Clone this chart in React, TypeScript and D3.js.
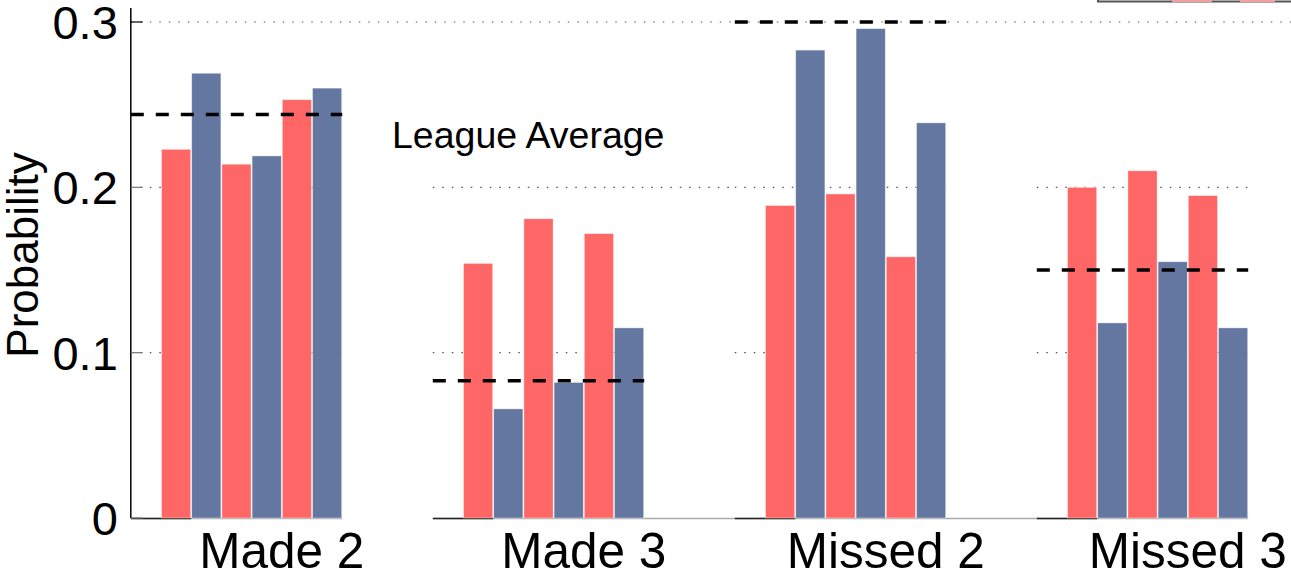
import React from "react";
import * as d3 from "d3";

const categories = ["Made 2", "Made 3", "Missed 2", "Missed 3"];
// six bars per category, alternating red / blue series
const redValues = [
  [0.223, 0.214, 0.253],
  [0.154, 0.181, 0.172],
  [0.189, 0.196, 0.158],
  [0.2, 0.21, 0.195],
];
const blueValues = [
  [0.269, 0.219, 0.26],
  [0.066, 0.082, 0.115],
  [0.283, 0.296, 0.239],
  [0.118, 0.155, 0.115],
];
const leagueAverage = [0.244, 0.083, 0.3, 0.15];
const yTicks = [0, 0.1, 0.2, 0.3];
const yTickLabels = ["0", "0.1", "0.2", "0.3"];

const RED = "#FF6666";
const BLUE = "#6377A0";
const FONT = "'Liberation Sans', Arial, Helvetica, sans-serif";

export default function App() {
  const W = 1291;
  const H = 579;
  const y = d3.scaleLinear().domain([0, 0.3]).range([518, 22]);
  // x in "bar units": each group occupies 10 units, bars occupy 0..6
  const x = d3.scaleLinear().domain([0, 40]).range([161, 161 + 40 * 30.2]);
  const unit = x(1) - x(0);

  const bars: { key: string; x0: number; v: number; color: string }[] = [];
  categories.forEach((c, g) => {
    for (let i = 0; i < 3; i++) {
      bars.push({ key: `${c}-r${i}`, x0: g * 10 + i * 2, v: redValues[g][i], color: RED });
      bars.push({ key: `${c}-b${i}`, x0: g * 10 + i * 2 + 1, v: blueValues[g][i], color: BLUE });
    }
  });

  const axisX = x(-1);

  return (
    <svg
      width={W}
      height={H}
      style={{ position: "absolute", left: 0, top: 0, background: "#fff" }}
      fontFamily={FONT}
    >
      {/* cut-off legend box at top right */}
      <rect x={1098} y={-40} width={220} height={41.5} fill="#fff" stroke="#555" strokeWidth={2} />
      <line x1={1172} x2={1212} y1={1} y2={1} stroke="#f4a0a0" strokeWidth={2} />
      <line x1={1240} x2={1275} y1={1} y2={1} stroke="#f4a0a0" strokeWidth={2} />

      {/* top gridline across all panels */}
      <line
        x1={axisX}
        x2={W}
        y1={y(0.3)}
        y2={y(0.3)}
        stroke="#555"
        strokeWidth={1.2}
        strokeDasharray="1.5 8"
      />
      {/* per-panel gridlines */}
      {categories.map((c, g) =>
        [0.1, 0.2].map((t) => (
          <line
            key={`${c}-g${t}`}
            x1={x(g * 10 - 1)}
            x2={g === 1 && t === 0.2 ? x(g * 10 + 9) : x(g * 10 + 6)}
            y1={y(t)}
            y2={y(t)}
            stroke="#555"
            strokeWidth={1.2}
            strokeDasharray="1.5 8"
          />
        ))
      )}

      {/* baselines */}
      {categories.map((c, g) => (
        <g key={`${c}-base`}>
          <line
            x1={x(g * 10 - 1)}
            x2={x(g * 10 + (g === 1 || g === 2 ? 9 : 6))}
            y1={y(0) + 0.5}
            y2={y(0) + 0.5}
            stroke="#aaa"
            strokeWidth={1.5}
          />
          <line
            x1={x(g * 10 - 1)}
            x2={x(g * 10 + 1)}
            y1={y(0) + 0.5}
            y2={y(0) + 0.5}
            stroke="#222"
            strokeWidth={1.5}
          />
        </g>
      ))}

      {/* bars */}
      {bars.map((b) => (
        <rect
          key={b.key}
          x={x(b.x0) + 0.5}
          y={y(b.v)}
          width={unit - 1}
          height={y(0) - y(b.v)}
          fill={b.color}
          stroke="#fff"
          strokeOpacity={0.5}
          strokeWidth={0.8}
        />
      ))}

      {/* league average dashed lines */}
      {categories.map((c, g) => (
        <line
          key={`${c}-avg`}
          x1={x(g * 10 - 1)}
          x2={x(g * 10 + 6)}
          y1={y(leagueAverage[g])}
          y2={y(leagueAverage[g])}
          stroke="#000"
          strokeWidth={3.5}
          strokeDasharray="13 12"
        />
      ))}

      {/* y axis */}
      <line x1={axisX} x2={axisX} y1={8} y2={y(0)} stroke="#000" strokeWidth={1.5} />
      {yTicks.map((t, i) => (
        <g key={`yt${i}`}>
          <line x1={axisX} x2={axisX + 12} y1={y(t)} y2={y(t)} stroke={i === 3 ? "#000" : "#777"} strokeWidth={1.2} />
          <text
            x={axisX - 13}
            y={y(t)}
            dy="0.36em"
            textAnchor="end"
            fontSize={47}
            fill="#000"
          >
            {yTickLabels[i]}
          </text>
        </g>
      ))}
      <text
        transform={`translate(38, 255) rotate(-90)`}
        textAnchor="middle"
        fontSize={44}
        fill="#000"
      >
        Probability
      </text>

      {/* category labels */}
      {categories.map((c, g) => (
        <text key={`${c}-lab`} x={x(g * 10 + 4)} y={568} textAnchor="middle" fontSize={49.5} fill="#000">
          {c}
        </text>
      ))}

      <text x={392} y={148} fontSize={37.5} fill="#000">
        League Average
      </text>
    </svg>
  );
}
